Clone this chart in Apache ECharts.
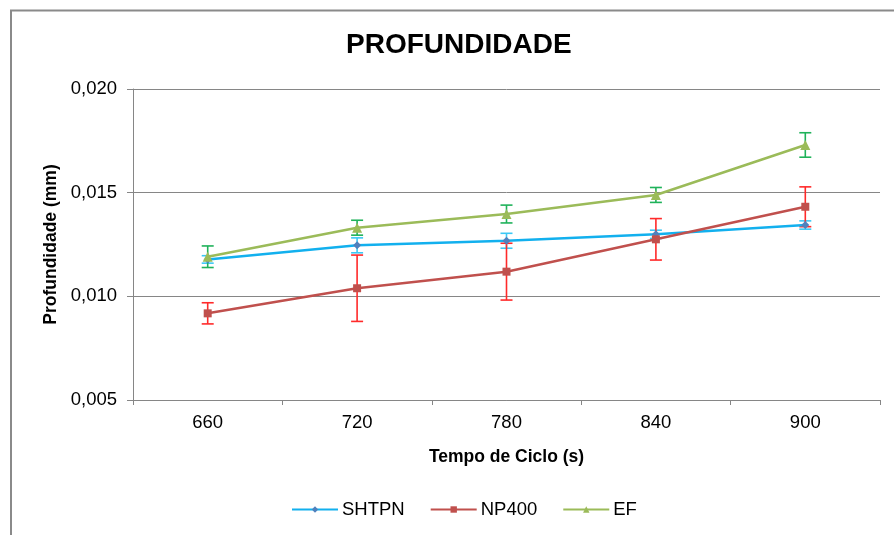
<!DOCTYPE html>
<html>
<head>
<meta charset="utf-8">
<title>Profundidade</title>
<script src="https://cdn.jsdelivr.net/npm/echarts@6/dist/echarts.min.js"></script>
<style>
  html, body { margin: 0; padding: 0; background: #fff; }
  #chart { width: 894px; height: 535px; }
</style>
</head>
<body>
<div id="chart"></div>
<script>
// Cycle times (s)
const categories = ['660', '720', '780', '840', '900'];

// Mean depth (mm) and standard deviation for each process
const shtpn    = [0.01178, 0.01246, 0.01268, 0.01299, 0.01344];
const shtpnErr = [0.00018, 0.00036, 0.00036, 0.00020, 0.00020];

const np400    = [0.00918, 0.01039, 0.01119, 0.01275, 0.01432];
const np400Err = [0.00051, 0.00160, 0.00137, 0.00100, 0.00096];

const ef       = [0.01191, 0.01331, 0.01397, 0.01489, 0.01730];
const efErr    = [0.00052, 0.00036, 0.00043, 0.00036, 0.00059];

// Y axis ticks
const yMin = 0.005, yMax = 0.020, yStep = 0.005;

const FONT = '"Liberation Sans", Arial, sans-serif';

// [index, low, high] triples for the error bars
function errData(vals, errs) {
  return vals.map((v, i) => [i, v - errs[i], v + errs[i]]);
}

function errorSeries(name, vals, errs, color) {
  return {
    type: 'custom',
    name: name,
    z: 1,
    data: errData(vals, errs),
    encode: { x: 0, y: [1, 2] },
    silent: true,
    renderItem: function (params, api) {
      const x = api.value(0);
      const lo = api.coord([x, api.value(1)]);
      const hi = api.coord([x, api.value(2)]);
      const half = 6;
      const style = { stroke: color, lineWidth: 1.6 };
      return {
        type: 'group',
        children: [
          { type: 'line', shape: { x1: lo[0], y1: lo[1], x2: hi[0], y2: hi[1] }, style: style },
          { type: 'line', shape: { x1: lo[0] - half, y1: lo[1], x2: lo[0] + half, y2: lo[1] }, style: style },
          { type: 'line', shape: { x1: hi[0] - half, y1: hi[1], x2: hi[0] + half, y2: hi[1] }, style: style }
        ]
      };
    }
  };
}

const chart = echarts.init(document.getElementById('chart'), null, { renderer: 'canvas' });

chart.setOption({
  animation: false,
  backgroundColor: '#fff',
  textStyle: { fontFamily: FONT },
  graphic: [{
    type: 'rect',
    silent: true,
    z: -1,
    shape: { x: 11, y: 10.5, width: 1000, height: 1000 },
    style: { fill: 'none', stroke: '#8a8a8a', lineWidth: 2 }
  }],
  title: {
    text: 'PROFUNDIDADE',
    left: 346,
    top: 31,
    padding: 0,
    textStyle: { fontFamily: FONT, fontSize: 28, fontWeight: 'bold', color: '#000' }
  },
  legend: {
    data: ['SHTPN', 'NP400', 'EF'],
    bottom: 11,
    left: 286,
    itemWidth: 46,
    itemHeight: 8,
    itemGap: 25,
    textStyle: { fontFamily: FONT, fontSize: 18.5, color: '#000', padding: [0, 0, 0, -1] }
  },
  grid: { left: 133, right: 14, top: 89, bottom: 135, containLabel: false },
  xAxis: {
    type: 'category',
    data: categories,
    boundaryGap: true,
    name: 'Tempo de Ciclo (s)',
    nameLocation: 'middle',
    nameGap: 48,
    nameTextStyle: { fontFamily: FONT, fontSize: 17.5, fontWeight: 'bold', color: '#000' },
    axisLine: { lineStyle: { color: '#868686', width: 1 } },
    axisTick: { show: true, length: 5, lineStyle: { color: '#868686' } },
    axisLabel: { fontFamily: FONT, fontSize: 18.5, color: '#000', margin: 13 },
    splitLine: { show: false }
  },
  yAxis: {
    type: 'value',
    min: yMin,
    max: yMax,
    interval: yStep,
    name: 'Profundidade (mm)',
    nameLocation: 'middle',
    nameGap: 64,
    nameRotate: 90,
    nameTextStyle: { fontFamily: FONT, fontSize: 17.5, fontWeight: 'bold', color: '#000' },
    axisLine: { show: true, lineStyle: { color: '#868686', width: 1 } },
    axisTick: { show: true, length: 6, inside: false, lineStyle: { color: '#868686' } },
    axisLabel: {
      fontFamily: FONT, fontSize: 18.5, color: '#000', margin: 16,
      formatter: v => v.toFixed(3).replace('.', ',')
    },
    splitLine: { show: true, lineStyle: { color: '#868686', width: 1 } }
  },
  series: [
    errorSeries('SHTPN-err', shtpn, shtpnErr, '#3cc8f5'),
    errorSeries('NP400-err', np400, np400Err, '#ff2a2a'),
    errorSeries('EF-err', ef, efErr, '#1fb25a'),
    {
      name: 'SHTPN',
      type: 'line',
      z: 3,
      data: shtpn,
      symbol: 'diamond',
      symbolSize: 8,
      showAllSymbol: true,
      lineStyle: { color: '#12b0ee', width: 2.5 },
      itemStyle: { color: '#4f81bd' }
    },
    {
      name: 'NP400',
      type: 'line',
      z: 3,
      data: np400,
      symbol: 'rect',
      symbolSize: 8,
      lineStyle: { color: '#c0504d', width: 2.5 },
      itemStyle: { color: '#c0504d' }
    },
    {
      name: 'EF',
      type: 'line',
      z: 3,
      data: ef,
      symbol: 'triangle',
      symbolSize: 10,
      lineStyle: { color: '#9bbb59', width: 2.5 },
      itemStyle: { color: '#9bbb59' }
    }
  ]
});
</script>
</body>
</html>
